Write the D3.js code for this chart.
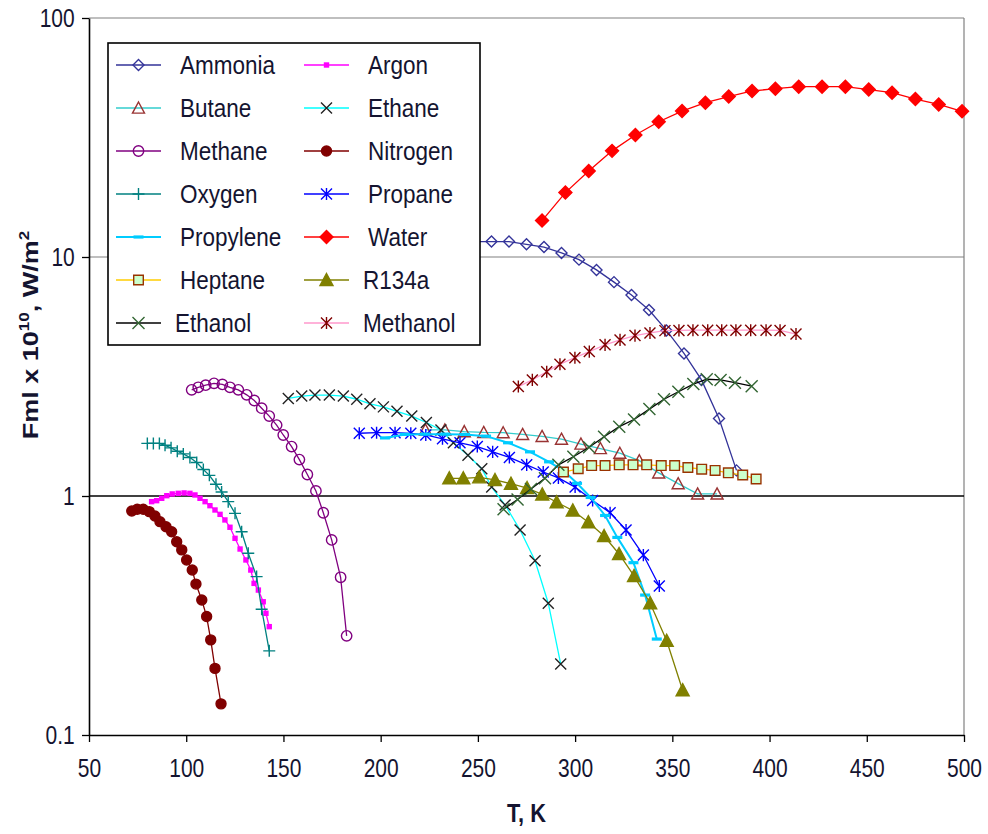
<!DOCTYPE html>
<html>
<head>
<meta charset="utf-8">
<script src="https://cdn.jsdelivr.net/npm/d3@7"></script>
<style>
  html, body { margin: 0; padding: 0; background: #fff; }
  svg { display: block; font-family: "Liberation Sans", Arial, sans-serif; }
</style>
</head>
<body>
<svg id="chart" width="988" height="834"></svg>
<script>
// axis ticks
const xTicks = [50, 100, 150, 200, 250, 300, 350, 400, 450, 500]
const yTicks = [0.1, 1, 10, 100]

// series values: T in K, F in 1e10 W/m2
const ammoniaT = [248, 257, 266, 275, 284, 293, 302, 311, 320, 329, 338, 347, 356, 365, 374, 383]
const ammoniaF = [11.6, 11.6, 11.6, 11.3, 11.0, 10.4, 9.75, 8.83, 7.85, 6.93, 6.0, 4.93, 3.95, 3.06, 2.11, 1.28]

const argonT = [82.2, 84.8, 87.4, 90.0, 92.8, 95.9, 98.9, 101.9, 104.5, 107.1, 109.7, 112.2, 114.8, 117.4, 119.9, 122.5, 125.1, 127.7, 130.7, 133.2, 134.9, 137.1, 139.6, 141.0, 142.7]
const argonF = [0.947, 0.956, 0.978, 1.003, 1.02, 1.026, 1.03, 1.026, 1.01, 0.978, 0.947, 0.911, 0.874, 0.838, 0.794, 0.740, 0.665, 0.600, 0.540, 0.490, 0.431, 0.404, 0.361, 0.323, 0.284]

const butaneT = [223, 233, 243, 253, 263, 273, 283, 293, 303, 313, 323, 333, 343, 353, 363, 373]
const butaneF = [1.89, 1.89, 1.86, 1.845, 1.84, 1.81, 1.775, 1.73, 1.65, 1.58, 1.51, 1.405, 1.25, 1.126, 1.02, 1.02]

const ethaneT = [152.5, 159.4, 166.2, 173.6, 180.8, 187.7, 194.5, 201.4, 208.4, 216.0, 223.5, 231.0, 237.4, 244.9, 252.0, 257.1, 264.0, 271.7, 279.4, 286.2, 292.6]
const ethaneF = [2.56, 2.62, 2.645, 2.645, 2.62, 2.54, 2.43, 2.36, 2.26, 2.16, 2.03, 1.89, 1.67, 1.48, 1.30, 1.09, 0.917, 0.721, 0.536, 0.356, 0.198]

const methaneT = [102.8, 106.2, 110.0, 114.3, 118.6, 122.5, 126.8, 131.1, 135.0, 138.8, 142.7, 146.5, 149.9, 154.2, 158.2, 162.3, 166.7, 170.5, 174.8, 179.4, 182.5]
const methaneF = [2.78, 2.85, 2.91, 2.96, 2.93, 2.85, 2.78, 2.65, 2.51, 2.33, 2.16, 1.98, 1.80, 1.61, 1.42, 1.23, 1.05, 0.851, 0.655, 0.457, 0.260]

const nitrogenT = [72.0, 74.8, 77.9, 81.0, 83.9, 86.5, 89.6, 92.5, 95.1, 97.7, 100.2, 103.1, 105.0, 108.0, 110.5, 112.6, 114.8, 117.9]
const nitrogenF = [0.866, 0.880, 0.880, 0.860, 0.825, 0.781, 0.744, 0.709, 0.644, 0.595, 0.540, 0.490, 0.428, 0.367, 0.313, 0.250, 0.190, 0.135]

const oxygenT = [80.0, 83.1, 86.2, 89.1, 92.2, 95.4, 98.5, 101.9, 105.4, 108.8, 111.9, 115.3, 118.2, 121.6, 125.1, 128.5, 131.9, 136.2, 138.8, 142.7]
const oxygenF = [1.66, 1.66, 1.66, 1.63, 1.59, 1.54, 1.50, 1.45, 1.38, 1.29, 1.22, 1.12, 1.04, 0.947, 0.846, 0.709, 0.576, 0.460, 0.336, 0.225]

const propaneT = [189.0, 197.9, 207.4, 215.5, 223.2, 231.8, 240.8, 249.7, 257.6, 266.2, 275.1, 283.6, 291.4, 300.0, 309.0, 318.0, 326.2, 335.1, 343.3]
const propaneF = [1.83, 1.84, 1.84, 1.83, 1.80, 1.735, 1.67, 1.61, 1.53, 1.45, 1.35, 1.26, 1.19, 1.09, 0.958, 0.851, 0.721, 0.566, 0.420]

const propyleneT = [202.2, 212.5, 222.8, 233.1, 243.4, 254.2, 265.5, 276.8, 286.6, 293.8, 301.0, 308.0, 315.4, 321.7, 330.0, 336.0, 342.0]
const propyleneF = [1.75, 1.81, 1.815, 1.815, 1.81, 1.78, 1.67, 1.53, 1.39, 1.28, 1.13, 0.986, 0.829, 0.671, 0.526, 0.385, 0.252]

const waterT = [283, 295, 307, 319, 331, 343, 355, 367, 379, 391, 403, 415, 427, 439, 451, 463, 475, 487, 499]
const waterF = [14.2, 18.6, 22.9, 27.8, 32.4, 36.8, 40.8, 44.2, 46.9, 49.5, 50.6, 51.6, 51.6, 51.6, 50.2, 48.7, 45.8, 43.5, 40.7]

const heptaneT = [294.0, 301.6, 308.5, 315.4, 322.7, 329.8, 336.8, 344.3, 351.2, 358.0, 365.1, 372.0, 378.8, 386.2, 393.1]
const heptaneF = [1.26, 1.30, 1.34, 1.34, 1.35, 1.35, 1.35, 1.34, 1.34, 1.316, 1.295, 1.28, 1.25, 1.224, 1.178]

const r134aT = [235.3, 242.5, 250.7, 258.8, 267.0, 275.3, 283.1, 290.5, 298.8, 306.8, 314.9, 322.6, 330.3, 338.6, 347.1, 355.3]
const r134aF = [1.186, 1.186, 1.197, 1.167, 1.126, 1.08, 1.015, 0.942, 0.870, 0.777, 0.680, 0.572, 0.463, 0.356, 0.248, 0.154]

const ethanolT = [263.2, 270.4, 277.3, 284.5, 291.4, 299.1, 307.2, 314.9, 322.7, 330.3, 338.2, 345.7, 353.1, 360.8, 367.7, 374.8, 382.2, 390.8]
const ethanolF = [0.880, 0.967, 1.07, 1.186, 1.35, 1.46, 1.60, 1.77, 1.95, 2.09, 2.31, 2.54, 2.73, 2.94, 3.08, 3.06, 2.98, 2.88]

const methanolT = [270.8, 278.0, 285.4, 292.2, 299.9, 307.3, 315.4, 323.1, 330.8, 338.5, 346.2, 353.4, 360.6, 368.2, 375.4, 382.7, 390.3, 398.2, 405.4, 413.6]
const methanolF = [2.87, 3.06, 3.31, 3.56, 3.79, 4.02, 4.29, 4.50, 4.69, 4.81, 4.92, 4.93, 4.94, 4.94, 4.94, 4.94, 4.94, 4.94, 4.93, 4.76]

const series = [
  { name: 'Ammonia', t: ammoniaT, f: ammoniaF, line: '#333399', mark: 'diamond', size: 5.5, stroke: '#333399', fill: 'none' },
  { name: 'Argon', t: argonT, f: argonF, line: '#FF00FF', mark: 'square', size: 2.7, stroke: 'none', fill: '#FF00FF' },
  { name: 'Butane', t: butaneT, f: butaneF, line: '#33CCCC', mark: 'triangle', size: 6, stroke: '#993333', fill: 'none' },
  { name: 'Ethane', t: ethaneT, f: ethaneF, line: '#00FFFF', mark: 'cross', size: 5.5, stroke: '#222222', fill: 'none' },
  { name: 'Methane', t: methaneT, f: methaneF, line: '#800080', mark: 'circle', size: 5.2, stroke: '#800080', fill: 'none' },
  { name: 'Nitrogen', t: nitrogenT, f: nitrogenF, line: '#800000', mark: 'circle', size: 5, stroke: '#800000', fill: '#800000' },
  { name: 'Oxygen', t: oxygenT, f: oxygenF, line: '#008080', mark: 'plus', size: 6, stroke: '#008080', fill: 'none' },
  { name: 'Propane', t: propaneT, f: propaneF, line: '#0000FF', mark: 'asterisk', size: 5.5, stroke: '#0000FF', fill: 'none' },
  { name: 'Propylene', t: propyleneT, f: propyleneF, line: '#00CCFF', mark: 'dash', size: 5, stroke: 'none', fill: '#00CCFF', lw: 2 },
  { name: 'Water', t: waterT, f: waterF, line: '#FF0000', mark: 'diamond', size: 6.5, stroke: '#FF0000', fill: '#FF0000' },
  { name: 'Heptane', t: heptaneT, f: heptaneF, line: '#FFCC00', mark: 'square', size: 4.8, stroke: '#993300', fill: '#CCFFCC' },
  { name: 'R134a', t: r134aT, f: r134aF, line: '#808000', mark: 'triangle', size: 6.5, stroke: '#808000', fill: '#808000' },
  { name: 'Ethanol', t: ethanolT, f: ethanolF, line: '#000000', mark: 'cross', size: 6, stroke: '#336633', fill: 'none' },
  { name: 'Methanol', t: methanolT, f: methanolF, line: '#FF99CC', mark: 'asterisk', size: 5.5, stroke: '#800000', fill: 'none' }
]

const FONT_SQUEEZE = 0.84

const svg = d3.select('#chart')
const x = d3.scaleLinear().domain([50, 500]).range([89, 964])
const y = d3.scaleLog().domain([0.1, 100]).range([735, 18])

function markPath(type, s) {
  switch (type) {
    case 'diamond': return `M0,${-s}L${s},0L0,${s}L${-s},0Z`
    case 'square': return `M${-s},${-s}H${s}V${s}H${-s}Z`
    case 'triangle': return `M0,${-s}L${s},${s * 0.85}L${-s},${s * 0.85}Z`
    case 'circle': return `M${s},0A${s},${s} 0 1 1 ${-s},0A${s},${s} 0 1 1 ${s},0Z`
    case 'plus': return `M${-s},0H${s}M0,${-s}V${s}`
    case 'cross': return `M${-s},${-s}L${s},${s}M${-s},${s}L${s},${-s}`
    case 'asterisk': return `M${-s},${-s}L${s},${s}M${-s},${s}L${s},${-s}M0,${-s * 1.1}V${s * 1.1}`
    case 'dash': return `M${-s},-1.6H${s}V1.6H${-s}Z`
  }
}

// plot frame and gridlines
svg.append('line').attr('x1', 89).attr('x2', 964).attr('y1', y(100)).attr('y2', y(100)).attr('stroke', '#808080').attr('stroke-width', 1.2)
svg.append('line').attr('x1', 964).attr('x2', 964).attr('y1', 18).attr('y2', 735).attr('stroke', '#808080').attr('stroke-width', 1.2)
svg.append('line').attr('x1', 89).attr('x2', 964).attr('y1', y(10)).attr('y2', y(10)).attr('stroke', '#808080').attr('stroke-width', 1.2)
svg.append('line').attr('x1', 89).attr('x2', 964).attr('y1', y(1)).attr('y2', y(1)).attr('stroke', '#000').attr('stroke-width', 1.5)

// axes
const xAxis = svg.append('g')
  .attr('transform', 'translate(0,735)')
  .call(d3.axisBottom(x).tickValues(xTicks).tickSize(7).tickPadding(16).tickSizeOuter(0))
const yAxis = svg.append('g')
  .attr('transform', 'translate(89,0)')
  .call(d3.axisLeft(y).tickValues(yTicks).tickFormat(d => String(d)).tickSize(7).tickPadding(10).tickSizeOuter(0))

for (const ax of [xAxis, yAxis]) {
  ax.select('.domain').attr('stroke', '#000').attr('stroke-width', 1.6)
  ax.selectAll('.tick line').attr('stroke', '#000').attr('stroke-width', 1.3)
  ax.selectAll('.tick text')
    .attr('font-size', 25)
    .attr('font-family', '"Liberation Sans", Arial, sans-serif')
    .attr('fill', '#141430')
    .attr('transform', `scale(${FONT_SQUEEZE},1)`)
}
xAxis.selectAll('.tick text').attr('dy', '0.78em')

// series
const line = d3.line().x(d => x(d[0])).y(d => y(d[1]))
series.forEach(s => {
  const pts = s.t.map((t, i) => [t, s.f[i]])
  const g = svg.append('g')
  g.append('path')
    .attr('d', line(pts))
    .attr('fill', 'none')
    .attr('stroke', s.line)
    .attr('stroke-width', s.lw || 1.3)
  g.selectAll('path.mk')
    .data(pts)
    .enter()
    .append('path')
    .attr('class', 'mk')
    .attr('transform', d => `translate(${x(d[0])},${y(d[1])})`)
    .attr('d', markPath(s.mark, s.size))
    .attr('fill', s.fill)
    .attr('stroke', s.stroke)
    .attr('stroke-width', 1.4)
})

// legend
const legend = svg.append('g')
legend.append('rect')
  .attr('x', 108).attr('y', 43).attr('width', 372).attr('height', 302)
  .attr('fill', '#fff').attr('stroke', '#000').attr('stroke-width', 1.6)

series.forEach((s, i) => {
  const col = i % 2
  const row = Math.floor(i / 2)
  const cy = 65 + row * 43
  const x0 = col ? 304 : 116
  const tx = (col ? 368 : 180) - (row === 6 || (col === 1 && row >= 5) ? 5 : 0)
  const item = legend.append('g')
  item.append('line')
    .attr('x1', x0).attr('x2', x0 + 45).attr('y1', cy).attr('y2', cy)
    .attr('stroke', s.line).attr('stroke-width', s.lw || 1.6)
  item.append('path')
    .attr('transform', `translate(${x0 + 22.5},${cy})`)
    .attr('d', markPath(s.mark, s.size))
    .attr('fill', s.fill)
    .attr('stroke', s.stroke)
    .attr('stroke-width', 1.4)
  item.append('text')
    .attr('transform', `translate(${tx},${cy + 9}) scale(0.9,1)`)
    .attr('font-size', 25)
    .attr('fill', '#141430')
    .text(s.name)
})

// axis titles
svg.append('text')
  .attr('transform', `translate(${(x(50) + x(500)) / 2},822) scale(${FONT_SQUEEZE},1)`)
  .attr('text-anchor', 'middle')
  .attr('font-size', 26)
  .attr('font-weight', 'bold')
  .attr('fill', '#141430')
  .text('T, K')

const yTitle = svg.append('text')
  .attr('transform', `translate(38,335) rotate(-90) scale(1,${FONT_SQUEEZE})`)
  .attr('text-anchor', 'middle')
  .attr('font-size', 27)
  .attr('font-weight', 'bold')
  .attr('fill', '#141430')
yTitle.append('tspan').text('Fml x 10')
yTitle.append('tspan').attr('font-size', 17).attr('dy', -11).text('10')
yTitle.append('tspan').attr('dy', 11).text(', W/m')
yTitle.append('tspan').attr('font-size', 17).attr('dy', -11).text('2')
</script>
</body>
</html>
